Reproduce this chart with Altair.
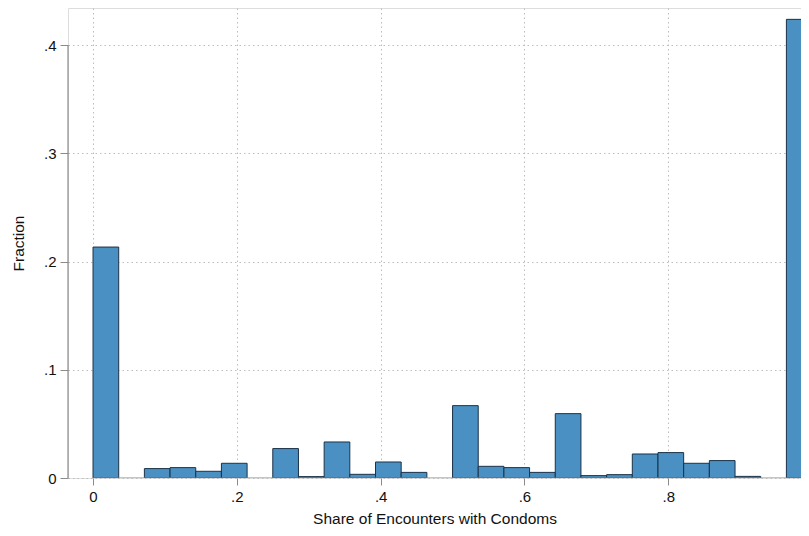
import altair as alt
import pandas as pd

# Histogram: 28 equal bins on [0, 1]
n_bins = 28
fractions = [0.2135, 0.0, 0.0087, 0.0096, 0.0062, 0.0136, 0.0, 0.0272,
             0.0013, 0.0333, 0.0034, 0.0148, 0.0052, 0.0, 0.0669, 0.0108,
             0.0096, 0.0052, 0.0595, 0.0022, 0.0031, 0.0222, 0.0235, 0.0136,
             0.0161, 0.0015, 0.0, 0.424]
x_ticks = [0, 0.2, 0.4, 0.6, 0.8]
y_ticks = [0, 0.1, 0.2, 0.3, 0.4]

df = pd.DataFrame({
    "start": [i / n_bins for i in range(n_bins)],
    "end": [(i + 1) / n_bins for i in range(n_bins)],
    "fraction": fractions,
    "base": [0.0] * n_bins,
})
df = df[df["fraction"] > 0]

FONT = "Liberation Sans"
grid_color = "#bdbdbd"
axis_color = "#8c8c8c"

xscale = alt.Scale(domain=[-0.0348, 0.9846], nice=False, zero=False)
yscale = alt.Scale(domain=[0, 0.4345], nice=False)

lab = "datum.value == 0 ? '0' : replace(format(datum.value, '.1f'), '0.', '.')"

bars = alt.Chart(df).mark_bar(
    fill="#4a90c2", stroke="#1b3248", strokeWidth=1, clip=True
).encode(
    x=alt.X("start:Q", scale=xscale,
            axis=alt.Axis(values=x_ticks, labelExpr=lab, title="Share of Encounters with Condoms",
                          domain=False, grid=True, gridColor=grid_color, gridDash=[1.5, 3],
                          gridWidth=1, tickColor=axis_color, tickSize=7, labelPadding=4,
                          labelFont=FONT, labelFontSize=15, labelColor="#111111",
                          titleFont=FONT, titleFontSize=15.5, titleFontWeight="normal",
                          titleColor="#111111", titlePadding=7)),
    x2="end:Q",
    y=alt.Y("fraction:Q", scale=yscale,
            axis=alt.Axis(values=y_ticks, labelExpr=lab, title="Fraction",
                          domain=False, grid=True, gridColor=grid_color, gridDash=[1.5, 3],
                          gridWidth=1, tickColor=axis_color, tickSize=8, labelPadding=4,
                          labelFont=FONT, labelFontSize=15, labelColor="#111111",
                          titleFont=FONT, titleFontSize=15.5, titleFontWeight="normal",
                          titleColor="#111111", titlePadding=17)),
    y2="base:Q",
)

xaxis_line = alt.Chart(pd.DataFrame({"a": [0]})).mark_rule(
    color=axis_color, strokeWidth=1.2, clip=True
).encode(
    x=alt.datum(0), x2=alt.datum(1), y=alt.datum(0)
)

yaxis_line = alt.Chart(pd.DataFrame({"a": [0]})).mark_rule(
    color=axis_color, strokeWidth=1.2
).encode(
    x=alt.value(0), y=alt.datum(0), y2=alt.datum(0.4)
)

chart = alt.layer(bars, xaxis_line, yaxis_line).properties(
    width=733, height=470,
    autosize=alt.AutoSizeParams(type="none"),
    padding={"left": 60, "top": 0, "right": 0, "bottom": 50},
).configure_view(stroke=None).configure(background="white")

chart.save("out.html", embed_options={"renderer": "svg", "actions": False})
